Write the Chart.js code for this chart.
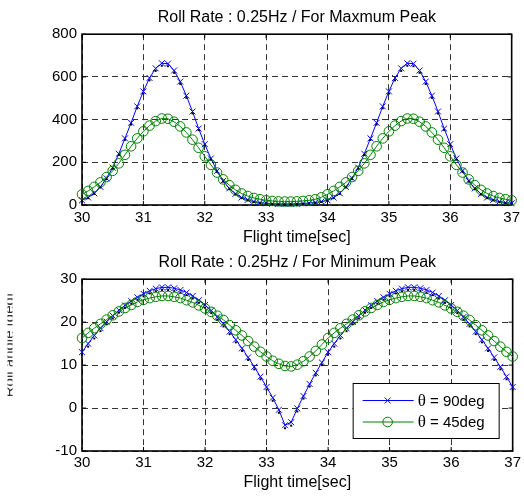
<!DOCTYPE html>
<html>
<head>
<meta charset="utf-8">
<script src="https://cdn.jsdelivr.net/npm/chart.js@4.4.1/dist/chart.umd.min.js"></script>
<style>
  html, body { margin: 0; background: #fff; }
  #wrap { position: relative; width: 524px; height: 496px; }
  canvas { position: absolute; left: 0; }
</style>
</head>
<body>
<div id="wrap">
  <canvas id="peakMax" width="524" height="248" style="top:0"></canvas>
  <canvas id="peakMin" width="524" height="248" style="top:248px"></canvas>
</div>
<script>
// sample times [sec]
const times = [
  30.0, 30.1, 30.2, 30.3, 30.4, 30.5, 30.6, 30.7, 30.8, 30.9,
  31.0, 31.1, 31.2, 31.3, 31.4, 31.5, 31.6, 31.7, 31.8, 31.9,
  32.0, 32.1, 32.2, 32.3, 32.4, 32.5, 32.6, 32.7, 32.8, 32.9,
  33.0, 33.1, 33.2, 33.3, 33.4, 33.5, 33.6, 33.7, 33.8, 33.9,
  34.0, 34.1, 34.2, 34.3, 34.4, 34.5, 34.6, 34.7, 34.8, 34.9,
  35.0, 35.1, 35.2, 35.3, 35.4, 35.5, 35.6, 35.7, 35.8, 35.9,
  36.0, 36.1, 36.2, 36.3, 36.4, 36.5, 36.6, 36.7, 36.8, 36.9,
  37.0
];

// maximum peak case
const maxRef = [
  20, 32, 52, 82, 121, 170, 234, 305, 377, 453,
  522, 584, 628, 652, 650, 619, 567, 502, 429, 351,
  279, 213, 156, 109, 75, 49, 32, 22, 14, 9,
  6, 4, 3, 3, 3, 4, 5, 7, 10, 14,
  20, 32, 52, 82, 121, 170, 234, 305, 377, 453,
  522, 584, 628, 652, 650, 619, 567, 502, 429, 351,
  279, 213, 156, 109, 75, 49, 32, 22, 14, 9,
  6
];
const max90 = [
  22, 35, 55, 85, 125, 175, 240, 312, 385, 462,
  532, 595, 640, 664, 662, 630, 578, 512, 438, 358,
  285, 218, 160, 113, 78, 52, 35, 24, 16, 11,
  8, 6, 5, 5, 5, 6, 7, 9, 12, 16,
  22, 35, 55, 85, 125, 175, 240, 312, 385, 462,
  532, 595, 640, 664, 662, 630, 578, 512, 438, 358,
  285, 218, 160, 113, 78, 52, 35, 24, 16, 11,
  8
];
const max45 = [
  50, 66, 85, 106, 131, 160, 195, 235, 275, 312,
  345, 372, 393, 405, 404, 390, 368, 340, 306, 268,
  228, 188, 152, 120, 93, 71, 54, 42, 33, 27,
  22, 19, 17, 16, 16, 17, 19, 22, 27, 36,
  50, 66, 85, 106, 131, 160, 195, 235, 275, 312,
  345, 372, 393, 405, 404, 390, 368, 340, 306, 268,
  228, 188, 152, 120, 93, 71, 54, 42, 33, 27,
  22
];

// minimum peak case
const minRef = [
  12.4, 14.3, 16.2, 17.9, 19.5, 20.9, 22.2, 23.3, 24.3, 25.2,
  26.0, 26.7, 27.2, 27.5, 27.5, 27.3, 26.9, 26.3, 25.5, 24.5,
  23.4, 22.1, 20.6, 19.0, 17.2, 15.3, 13.3, 11.2, 9.0, 6.7,
  4.3, 1.7, -1.1, -4.7, -4.1, -0.8, 2.2, 5.0, 7.6, 10.0,
  12.4, 14.3, 16.2, 17.9, 19.5, 20.9, 22.2, 23.3, 24.3, 25.2,
  26.0, 26.7, 27.2, 27.5, 27.5, 27.3, 26.9, 26.3, 25.5, 24.5,
  23.4, 22.1, 20.6, 19.0, 17.2, 15.3, 13.3, 11.2, 9.0, 6.7,
  4.3
];
const min90 = [
  13.0, 15.0, 16.9, 18.6, 20.1, 21.5, 22.8, 23.9, 24.9, 25.8,
  26.6, 27.3, 27.8, 28.1, 28.1, 27.9, 27.5, 26.9, 26.1, 25.1,
  24.0, 22.7, 21.2, 19.6, 17.8, 15.9, 13.9, 11.8, 9.6, 7.3,
  4.9, 2.4, -0.4, -4.0, -3.3, -0.1, 2.8, 5.6, 8.2, 10.6,
  13.0, 15.0, 16.9, 18.6, 20.1, 21.5, 22.8, 23.9, 24.9, 25.8,
  26.6, 27.3, 27.8, 28.1, 28.1, 27.9, 27.5, 26.9, 26.1, 25.1,
  24.0, 22.7, 21.2, 19.6, 17.8, 15.9, 13.9, 11.8, 9.6, 7.3,
  4.9
];
const min45 = [
  16.3, 17.5, 18.6, 19.6, 20.6, 21.6, 22.5, 23.3, 24.0, 24.7,
  25.2, 25.6, 25.9, 26.1, 26.1, 25.9, 25.6, 25.1, 24.6, 23.9,
  23.2, 22.4, 21.5, 20.5, 19.3, 18.1, 16.9, 15.6, 14.3, 13.1,
  12.0, 11.0, 10.3, 9.8, 9.7, 10.1, 10.9, 12.0, 13.3, 14.8,
  16.3, 17.5, 18.6, 19.6, 20.6, 21.6, 22.5, 23.3, 24.0, 24.7,
  25.2, 25.6, 25.9, 26.1, 26.1, 25.9, 25.6, 25.1, 24.6, 23.9,
  23.2, 22.4, 21.5, 20.5, 19.3, 18.1, 16.9, 15.6, 14.3, 13.1,
  12.0
];

const xTicks = [30, 31, 32, 33, 34, 35, 36, 37];
const maxTicks = [0, 200, 400, 600, 800];
const minTicks = [-10, 0, 10, 20, 30];

const sans = "'Liberation Sans', Arial, Helvetica, sans-serif";
const serif = "'Liberation Serif', 'Times New Roman', serif";

Chart.defaults.color = '#000';
Chart.defaults.font.family = sans;
Chart.defaults.animation = false;

const series = (values) => times.map((t, i) => ({ x: t, y: values[i] }));

function buildDatasets(ref, deg90, deg45) {
  return [
    {
      label: '', data: series(ref), showLine: false,
      pointStyle: 'rect', pointRadius: 1.4, pointBorderWidth: 0,
      pointBackgroundColor: '#000', borderColor: '#000', order: 0, clip: false
    },
    {
      label: 'θ = 90deg', data: series(deg90),
      borderColor: '#0000ff', borderWidth: 1, pointStyle: 'crossRot', pointRadius: 4.2,
      pointBorderColor: '#0000ff', pointBorderWidth: 1, order: 2, clip: false
    },
    {
      label: 'θ = 45deg', data: series(deg45),
      borderColor: '#008000', borderWidth: 1, pointStyle: 'circle', pointRadius: 4.8,
      pointBorderColor: '#008000', pointBackgroundColor: 'rgba(0,0,0,0)',
      pointBorderWidth: 1, order: 1, clip: false
    }
  ];
}

const gridStyle = { color: '#333', lineWidth: 1, drawTicks: false };
const borderStyle = { display: false, dash: [6, 4] };

function buildScales(yTicks, xHeight, xTickPad, xTitlePad) {
  return {
    x: {
      type: 'linear', min: xTicks[0], max: xTicks[xTicks.length - 1],
      afterBuildTicks: (s) => { s.ticks = xTicks.map((v) => ({ value: v })); },
      ticks: { padding: xTickPad, maxRotation: 0, font: { size: 15 } },
      grid: gridStyle, border: borderStyle,
      title: { display: true, text: 'Flight time[sec]', font: { size: 16 }, padding: { top: 0, bottom: xTitlePad } },
      afterFit: (s) => { s.height = xHeight; }
    },
    y: {
      min: yTicks[0], max: yTicks[yTicks.length - 1],
      afterBuildTicks: (s) => { s.ticks = yTicks.map((v) => ({ value: v })); },
      ticks: { padding: 5, font: { size: 15 } },
      grid: gridStyle, border: borderStyle,
      afterFit: (s) => { s.width = 42; }
    }
  };
}

// box and inward tick marks round the plot area
const axesFrame = {
  id: 'axesFrame',
  beforeDatasetsDraw(chart) {
    const { ctx, chartArea: a, scales: { x, y } } = chart;
    ctx.save();
    ctx.strokeStyle = '#000';
    ctx.lineWidth = 1;
    ctx.beginPath();
    x.ticks.forEach((t) => {
      const px = x.getPixelForValue(t.value);
      ctx.moveTo(px, a.bottom); ctx.lineTo(px, a.bottom - 4);
      ctx.moveTo(px, a.top); ctx.lineTo(px, a.top + 4);
    });
    y.ticks.forEach((t) => {
      const py = y.getPixelForValue(t.value);
      ctx.moveTo(a.left, py); ctx.lineTo(a.left + 4, py);
      ctx.moveTo(a.right, py); ctx.lineTo(a.right - 4, py);
    });
    ctx.stroke();
    ctx.lineWidth = 1.6;
    ctx.strokeRect(a.left, a.top, a.right - a.left, a.bottom - a.top);
    ctx.restore();
  }
};

// boxed legend in the lower right corner
const thetaLegend = {
  id: 'thetaLegend',
  afterDraw(chart) {
    const { ctx, chartArea: a } = chart;
    const left = a.right - 160, top = a.bottom - 68, w = 146, h = 55;
    ctx.save();
    ctx.fillStyle = '#fff';
    ctx.fillRect(left, top, w, h);
    ctx.strokeStyle = '#000';
    ctx.lineWidth = 1;
    ctx.strokeRect(left + 0.5, top + 0.5, w, h);
    chart.data.datasets.filter((ds) => ds.label).forEach((ds, i) => {
      const y = top + 17.5 + i * 21.5;
      const mx = left + 35;
      ctx.strokeStyle = ds.borderColor;
      ctx.lineWidth = 1;
      ctx.beginPath();
      ctx.moveTo(left + 10, y); ctx.lineTo(left + 61, y);
      if (ds.pointStyle === 'crossRot') {
        const d = ds.pointRadius * Math.SQRT1_2;
        ctx.moveTo(mx - d, y - d); ctx.lineTo(mx + d, y + d);
        ctx.moveTo(mx - d, y + d); ctx.lineTo(mx + d, y - d);
        ctx.stroke();
      } else {
        ctx.stroke();
        ctx.beginPath();
        ctx.arc(mx, y, ds.pointRadius, 0, Math.PI * 2);
        ctx.stroke();
      }
      ctx.fillStyle = '#000';
      ctx.textBaseline = 'middle';
      ctx.textAlign = 'left';
      ctx.font = '17px ' + serif;
      const sym = ds.label.charAt(0);
      ctx.fillText(sym, left + 65, y + 1);
      const sw = ctx.measureText(sym).width;
      ctx.font = '15px ' + sans;
      ctx.fillText(ds.label.slice(1), left + 65 + sw, y + 1);
    });
    ctx.restore();
  }
};

// y-axis name, cut off at the left edge
const sideLabel = {
  id: 'sideLabel',
  afterDraw(chart) {
    const { ctx, chartArea: a } = chart;
    ctx.save();
    ctx.beginPath();
    ctx.rect(7.5, 0, 5, chart.height);
    ctx.clip();
    ctx.translate(14, (a.top + a.bottom) / 2 - 20);
    ctx.rotate(-Math.PI / 2);
    ctx.font = '15px ' + sans;
    ctx.fillStyle = '#333';
    ctx.textAlign = 'center';
    ctx.textBaseline = 'alphabetic';
    ctx.fillText('Roll angle [deg]', 0, 0);
    ctx.restore();
  }
};

const titleFont = { size: 16, weight: 'normal' };

new Chart(document.getElementById('peakMax'), {
  type: 'line',
  data: { datasets: buildDatasets(maxRef, max90, max45) },
  options: {
    responsive: false,
    devicePixelRatio: 1,
    layout: { padding: { left: 40, right: 8, top: 0, bottom: 0 } },
    scales: buildScales(maxTicks, 43, 4, 1),
    plugins: {
      legend: { display: false },
      tooltip: { enabled: false },
      title: {
        display: true, fullSize: false, text: 'Roll Rate : 0.25Hz / For Maxmum Peak',
        font: titleFont, color: '#000', padding: { top: 8, bottom: 7 }
      }
    }
  },
  plugins: [axesFrame]
});

new Chart(document.getElementById('peakMin'), {
  type: 'line',
  data: { datasets: buildDatasets(minRef, min90, min45) },
  options: {
    responsive: false,
    devicePixelRatio: 1,
    layout: { padding: { left: 40, right: 8, top: 0, bottom: 0 } },
    scales: buildScales(minTicks, 45, 3, 4),
    plugins: {
      legend: { display: false },
      tooltip: { enabled: false },
      title: {
        display: true, fullSize: false, text: 'Roll Rate : 0.25Hz / For Minimum Peak',
        font: titleFont, color: '#000', padding: { top: 5, bottom: 7 }
      }
    }
  },
  plugins: [axesFrame, thetaLegend, sideLabel]
});
</script>
</body>
</html>
